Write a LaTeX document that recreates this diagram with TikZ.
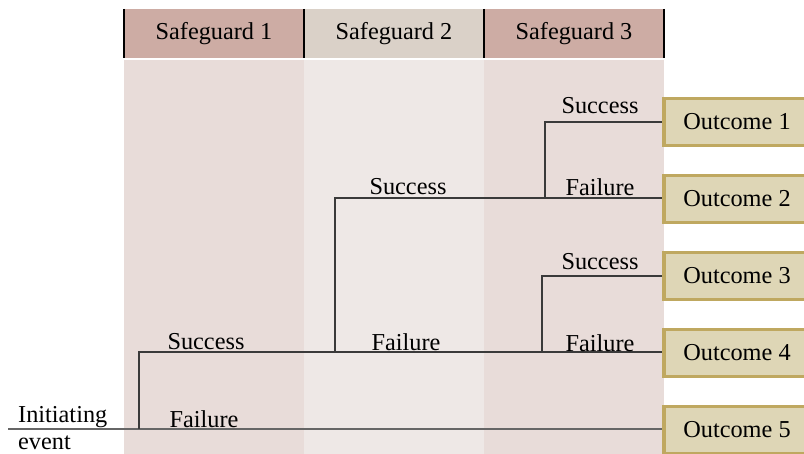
\documentclass[tikz,border=0pt]{standalone}
\usepackage{fontspec}
\setmainfont{Liberation Serif}
\begin{document}
\begin{tikzpicture}[x=1pt,y=-1pt,
  every node/.style={font=\fontsize{24.3}{27}\selectfont, inner sep=0pt},
  colA/.style={fill=bodyA, draw=none},
  colB/.style={fill=bodyB, draw=none},
  headA/.style={fill=headA, draw=none, minimum width=180pt, minimum height=49pt},
  headB/.style={fill=headB, draw=none, minimum width=180pt, minimum height=49pt},
  outbox/.style={fill=outfill, draw=outline, line width=3.4pt, minimum width=146pt, minimum height=47pt},
  branch/.style={draw=linecol, line width=1.1pt},
  lbl/.style={text=black}]
\definecolor{bodyA}{HTML}{E8DCD9}
\definecolor{bodyB}{HTML}{EEE8E6}
\definecolor{headA}{HTML}{CDACA4}
\definecolor{headB}{HTML}{DAD1C8}
\definecolor{outfill}{HTML}{DED6B6}
\definecolor{outline}{HTML}{BFA860}
\definecolor{linecol}{HTML}{3A3A3A}
\useasboundingbox (0,0) rectangle (804,454);
\fill[white] (0,0) rectangle (804,454);
% column bodies
\fill[colA] (124,60) rectangle (304,454);
\fill[colB] (304,60) rectangle (484,454);
\fill[colA] (484,60) rectangle (664,454);
% column headers
\node[headA] (h1) at (214,33.5) {Safeguard 1};
\node[headB] (h2) at (394,33.5) {Safeguard 2};
\node[headA] (h3) at (574,33.5) {Safeguard 3};
\foreach \x in {124,304,484,664} \draw[black, line width=2pt] (\x,9) -- (\x,58);
% outcomes
\node[outbox] (o1) at (737,122) {Outcome 1};
\node[outbox] (o2) at (737,199) {Outcome 2};
\node[outbox] (o3) at (737,276) {Outcome 3};
\node[outbox] (o4) at (737,353) {Outcome 4};
\node[outbox] (o5) at (737,430) {Outcome 5};
% initiating event and branch points
\node[align=left, anchor=west] (ie) at (18,428) {Initiating\\event};
\coordinate (start) at (8,429);
\coordinate (b1) at (139,429);
\coordinate (b2) at (335,352);
\coordinate (b3) at (545,198);
\coordinate (b4) at (542,352);
\draw[draw=gray!80!black, line width=1.4pt] (start) -- (o5.west |- start);
\draw[branch] (b1) |- (o4.west |- b2);
\draw[branch] (b2) |- (o2.west |- b3);
\draw[branch] (b3) |- (o1.west);
\draw[branch] (b4) |- (o3.west);
% branch labels
\node[lbl] (f1) at (204,419) {Failure};
\node[lbl] (s1) at (206,342) {Success};
\node[lbl] (f2) at (406,342) {Failure};
\node[lbl] (s2) at (408,187) {Success};
\node[lbl] (s3) at (600,106) {Success};
\node[lbl] (f3) at (600,187) {Failure};
\node[lbl] (s4) at (600,262) {Success};
\node[lbl] (f4) at (600,343) {Failure};
\end{tikzpicture}
\end{document}
